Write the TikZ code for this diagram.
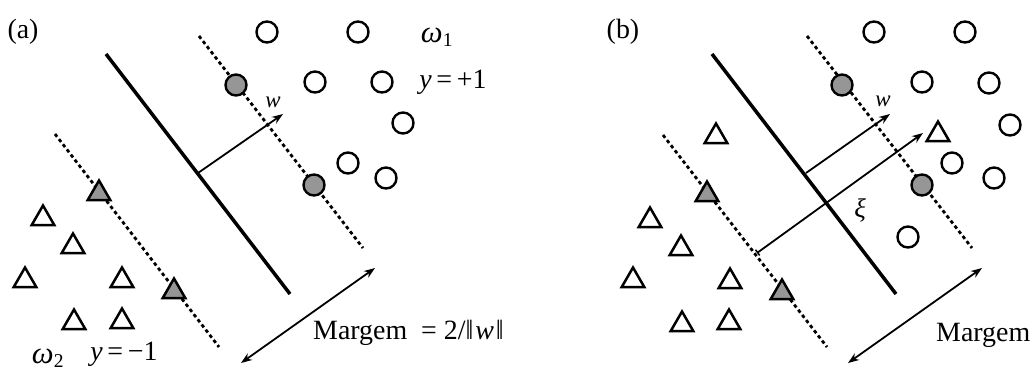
\documentclass[tikz,border=0pt]{standalone}
\usepackage{fontspec}
\setmainfont{Liberation Serif}
\usetikzlibrary{arrows.meta,shapes.geometric}
\definecolor{sv}{RGB}{150,150,150}
\begin{document}
\begin{tikzpicture}[x=1bp,y=-1bp,
  pt/.style={circle,draw,line width=2.4bp,minimum size=21bp,inner sep=0pt,fill=white},
  tri/.style={regular polygon,regular polygon sides=3,draw,line width=2.5bp,minimum size=26bp,inner sep=0pt,fill=white,yshift=-3.5bp},
  svfill/.style={fill=sv},
  hyper/.style={line width=3.5bp},
  marg/.style={line width=2.8bp,dash pattern=on 3.5bp off 3bp},
  vec/.style={line width=1.8bp,-{Stealth[length=11bp,width=8bp]}},
  dvec/.style={line width=1.8bp,{Stealth[length=11bp,width=8bp]}-{Stealth[length=11bp,width=8bp]}},
  lbl/.style={font=\fontsize{28}{30}\selectfont,inner sep=0pt},
  slbl/.style={font=\fontsize{23}{26}\selectfont\itshape,inner sep=0pt}]
\useasboundingbox (0,0) rectangle (1031,370);

% ---------- panel (a) ----------
\coordinate (Ha1) at (106,54);  \coordinate (Ha2) at (290,294);
\coordinate (Pa1) at (199,36);  \coordinate (Pa2) at (363,248);
\coordinate (Na1) at (55,134);  \coordinate (Na2) at (219,347);
\coordinate (wa0) at (198,173); \coordinate (wa1) at (283,114);
\coordinate (ma0) at (241,363); \coordinate (ma1) at (375,268);

\draw[hyper] (Ha1) -- (Ha2);
\draw[marg] (Pa1) -- (Pa2);
\draw[marg] (Na1) -- (Na2);
\draw[vec] (wa0) -- (wa1);
\draw[dvec] (ma0) -- (ma1);

\node[pt] (ca1) at (267,32) {};
\node[pt] (ca2) at (358,32) {};
\node[pt] (ca3) at (315,82) {};
\node[pt] (ca4) at (382,82) {};
\node[pt] (ca5) at (403,123) {};
\node[pt] (ca6) at (348,163) {};
\node[pt] (ca7) at (386,178) {};
\node[pt,svfill] (sa1) at (236,85) {};
\node[pt,svfill] (sa2) at (314,185) {};

\node[tri] (ta1) at (43,215) {};
\node[tri] (ta2) at (73,243) {};
\node[tri] (ta3) at (25,277) {};
\node[tri] (ta4) at (122,277) {};
\node[tri] (ta5) at (74,319) {};
\node[tri] (ta6) at (122,318) {};
\node[tri,svfill] (tsa1) at (99,190) {};
\node[tri,svfill] (tsa2) at (174,288) {};

\node[lbl] (la) at (23,32) {(a)};
\node[lbl] (om1) at (437,37) {{\fontsize{31}{32}\selectfont\textit{ω}}\textsubscript{1}};
\node[lbl] (yp) at (453,82) {\textit{y}\,=\,+1};
\node[lbl] (om2) at (48,358) {{\fontsize{31}{32}\selectfont\textit{ω}}\textsubscript{2}};
\node[lbl] (ym) at (124,354) {\textit{y}\,=\,−1};
\node[slbl] (wla) at (273,102) {w};
\node[lbl,anchor=west] (mga) at (313,333) {Margem\ \ =\ 2/‖\kern2pt\textit{w}\kern2pt‖};

% ---------- panel (b) ----------
\coordinate (Hb1) at (712,54);  \coordinate (Hb2) at (896,294);
\coordinate (Pb1) at (807,36);  \coordinate (Pb2) at (972,248);
\coordinate (Nb1) at (663,135); \coordinate (Nb2) at (827,347);
\coordinate (wb0) at (806,173); \coordinate (wb1) at (890,114);
\coordinate (xb0) at (757,253); \coordinate (xb1) at (923,133);
\coordinate (mb0) at (848,363); \coordinate (mb1) at (982,268);

\draw[hyper] (Hb1) -- (Hb2);
\draw[marg] (Pb1) -- (Pb2);
\draw[marg] (Nb1) -- (Nb2);
\draw[vec] (wb0) -- (wb1);
\draw[line width=1.8bp,{Bar[width=7bp,line width=1.5bp]}-{Stealth[length=11bp,width=8bp]}] (xb0) -- (xb1);
\draw[dvec] (mb0) -- (mb1);

\node[pt] (cb1) at (874,32) {};
\node[pt] (cb2) at (965,32) {};
\node[pt] (cb3) at (922,82) {};
\node[pt] (cb4) at (989,83) {};
\node[pt] (cb5) at (1010,125) {};
\node[pt] (cb6) at (952,163) {};
\node[pt] (cb7) at (994,178) {};
\node[pt] (cb8) at (908,237) {};
\node[pt,svfill] (sb1) at (842,85) {};
\node[pt,svfill] (sb2) at (922,185) {};

\node[tri] (tb1) at (716,133) {};
\node[tri] (tb2) at (938,131) {};
\node[tri] (tb3) at (650,217) {};
\node[tri] (tb4) at (681,245) {};
\node[tri] (tb5) at (633,277) {};
\node[tri] (tb6) at (730,278) {};
\node[tri] (tb7) at (682,321) {};
\node[tri] (tb8) at (729,319) {};
\node[tri,svfill] (tsb1) at (707,191) {};
\node[tri,svfill] (tsb2) at (782,289) {};

\node[lbl] (lb) at (623,32) {(b)};
\node[slbl] (wlb) at (883,101) {w};
\node[slbl,font=\fontsize{27}{28}\selectfont\itshape] (xil) at (860,210) {ξ};
\node[lbl,anchor=west] (mgb) at (936,335) {Margem};
\end{tikzpicture}
\end{document}
